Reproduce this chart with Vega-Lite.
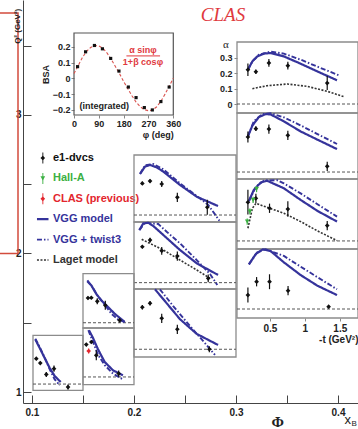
{
"$schema": "https://vega.github.io/schema/vega-lite/v6.json",
"width": 335, "height": 403,
"padding": {"left": 23, "top": 0, "right": 0, "bottom": 26},
"autosize": {"type": "none"},
"background": "white",
"config": {"view": {"stroke": null}, "font": "Liberation Sans", "axis": {"grid": false, "labelColor": "#222222", "titleColor": "#222222"}},
"datasets": {
"pts": [
{"p":"P4a","s":"e1-dvcs","t":0.186,"a":0.221,"lo":0.181,"hi":0.261},
{"p":"P4a","s":"e1-dvcs","t":0.30,"a":0.208,"lo":0.193,"hi":0.223},
{"p":"P4a","s":"e1-dvcs","t":0.486,"a":0.265,"lo":0.24,"hi":0.29},
{"p":"P4a","s":"e1-dvcs","t":0.757,"a":0.247,"lo":0.222,"hi":0.272},
{"p":"P4a","s":"e1-dvcs","t":1.32,"a":0.135,"lo":0.09,"hi":0.18},
{"p":"P4b","s":"e1-dvcs","t":0.186,"a":0.226,"lo":0.191,"hi":0.261},
{"p":"P4b","s":"e1-dvcs","t":0.30,"a":0.28,"lo":0.265,"hi":0.295},
{"p":"P4b","s":"e1-dvcs","t":0.486,"a":0.277,"lo":0.247,"hi":0.307},
{"p":"P4b","s":"e1-dvcs","t":0.757,"a":0.237,"lo":0.207,"hi":0.267},
{"p":"P4b","s":"e1-dvcs","t":1.32,"a":0.037,"lo":0.007,"hi":0.067},
{"p":"P4c","s":"e1-dvcs","t":0.186,"a":0.25,"lo":0.17,"hi":0.33},
{"p":"P4c","s":"e1-dvcs","t":0.30,"a":0.275,"lo":0.245,"hi":0.305},
{"p":"P4c","s":"e1-dvcs","t":0.495,"a":0.211,"lo":0.181,"hi":0.241},
{"p":"P4c","s":"e1-dvcs","t":0.757,"a":0.206,"lo":0.156,"hi":0.256},
{"p":"P4c","s":"e1-dvcs","t":1.32,"a":0.099,"lo":0.069,"hi":0.129},
{"p":"P4c","s":"Hall-A","t":0.176,"a":0.125,"lo":0.105,"hi":0.145},
{"p":"P4c","s":"Hall-A","t":0.214,"a":0.19,"lo":0.17,"hi":0.21},
{"p":"P4c","s":"Hall-A","t":0.26,"a":0.265,"lo":0.245,"hi":0.285},
{"p":"P4c","s":"Hall-A","t":0.31,"a":0.335,"lo":0.315,"hi":0.355},
{"p":"P4d","s":"e1-dvcs","t":0.186,"a":0.09,"lo":0.042,"hi":0.138},
{"p":"P4d","s":"e1-dvcs","t":0.31,"a":0.176,"lo":0.146,"hi":0.206},
{"p":"P4d","s":"e1-dvcs","t":0.495,"a":0.176,"lo":0.128,"hi":0.224},
{"p":"P4d","s":"e1-dvcs","t":0.76,"a":0.118,"lo":0.088,"hi":0.148},
{"p":"P4d","s":"e1-dvcs","t":1.34,"a":0.015,"lo":0.005,"hi":0.025},
{"p":"P3a","s":"e1-dvcs","t":0.149,"a":0.204,"lo":0.194,"hi":0.214},
{"p":"P3a","s":"e1-dvcs","t":0.259,"a":0.219,"lo":0.209,"hi":0.229},
{"p":"P3a","s":"e1-dvcs","t":0.426,"a":0.20,"lo":0.18,"hi":0.22},
{"p":"P3a","s":"e1-dvcs","t":0.649,"a":0.114,"lo":0.084,"hi":0.144},
{"p":"P3a","s":"e1-dvcs","t":1.077,"a":0.05,"lo":0.002,"hi":0.098},
{"p":"P3b","s":"e1-dvcs","t":0.149,"a":0.232,"lo":0.222,"hi":0.242},
{"p":"P3b","s":"e1-dvcs","t":0.259,"a":0.275,"lo":0.26,"hi":0.29},
{"p":"P3b","s":"e1-dvcs","t":0.426,"a":0.206,"lo":0.181,"hi":0.231},
{"p":"P3b","s":"e1-dvcs","t":0.649,"a":0.172,"lo":0.142,"hi":0.202},
{"p":"P3b","s":"e1-dvcs","t":1.09,"a":0.028,"lo":0.003,"hi":0.053},
{"p":"P3c","s":"e1-dvcs","t":0.149,"a":0.271,"lo":0.256,"hi":0.286},
{"p":"P3c","s":"e1-dvcs","t":0.259,"a":0.297,"lo":0.282,"hi":0.312},
{"p":"P3c","s":"e1-dvcs","t":0.426,"a":0.20,"lo":0.17,"hi":0.23},
{"p":"P3c","s":"e1-dvcs","t":0.649,"a":0.129,"lo":0.099,"hi":0.159},
{"p":"P3c","s":"e1-dvcs","t":1.106,"a":0.0,"lo":-0.02,"hi":0.02},
{"p":"P2a","s":"e1-dvcs","t":0.121,"a":0.198,"lo":0.188,"hi":0.208},
{"p":"P2a","s":"e1-dvcs","t":0.169,"a":0.2,"lo":0.19,"hi":0.21},
{"p":"P2a","s":"e1-dvcs","t":0.254,"a":0.171,"lo":0.147,"hi":0.195},
{"p":"P2a","s":"e1-dvcs","t":0.369,"a":0.139,"lo":0.103,"hi":0.175},
{"p":"P2a","s":"e1-dvcs","t":0.574,"a":0.019,"lo":0.003,"hi":0.035},
{"p":"P2b","s":"e1-dvcs","t":0.097,"a":0.259,"lo":0.249,"hi":0.269},
{"p":"P2b","s":"e1-dvcs","t":0.169,"a":0.28,"lo":0.27,"hi":0.29},
{"p":"P2b","s":"e1-dvcs","t":0.24,"a":0.173,"lo":0.133,"hi":0.213},
{"p":"P2b","s":"e1-dvcs","t":0.56,"a":0.027,"lo":0.002,"hi":0.052},
{"p":"P2b","s":"CLAS (previous)","t":0.131,"a":0.208,"lo":0.188,"hi":0.228},
{"p":"P1","s":"e1-dvcs","t":0.077,"a":0.203,"lo":0.193,"hi":0.213},
{"p":"P1","s":"e1-dvcs","t":0.134,"a":0.168,"lo":0.158,"hi":0.178},
{"p":"P1","s":"e1-dvcs","t":0.22,"a":0.077,"lo":0.057,"hi":0.097},
{"p":"P1","s":"e1-dvcs","t":0.33,"a":0.123,"lo":0.098,"hi":0.148},
{"p":"P1","s":"e1-dvcs","t":0.53,"a":-0.024,"lo":-0.044,"hi":-0.004}
],
"crv": [
{"p":"P4a","s":"VGG model","t":0.186,"a":0.221},{"p":"P4a","s":"VGG model","t":0.25,"a":0.275},{"p":"P4a","s":"VGG model","t":0.32,"a":0.307},{"p":"P4a","s":"VGG model","t":0.414,"a":0.325},{"p":"P4a","s":"VGG model","t":0.51,"a":0.329},{"p":"P4a","s":"VGG model","t":0.70,"a":0.307},{"p":"P4a","s":"VGG model","t":0.94,"a":0.26},{"p":"P4a","s":"VGG model","t":1.18,"a":0.21},{"p":"P4a","s":"VGG model","t":1.46,"a":0.153},
{"p":"P4a","s":"VGG + twist3","t":0.186,"a":0.221},{"p":"P4a","s":"VGG + twist3","t":0.25,"a":0.275},{"p":"P4a","s":"VGG + twist3","t":0.343,"a":0.318},{"p":"P4a","s":"VGG + twist3","t":0.51,"a":0.338},{"p":"P4a","s":"VGG + twist3","t":0.70,"a":0.325},{"p":"P4a","s":"VGG + twist3","t":0.94,"a":0.286},{"p":"P4a","s":"VGG + twist3","t":1.18,"a":0.241},{"p":"P4a","s":"VGG + twist3","t":1.486,"a":0.185},
{"p":"P4a","s":"Laget model","t":0.25,"a":0.099},{"p":"P4a","s":"Laget model","t":0.46,"a":0.118},{"p":"P4a","s":"Laget model","t":0.75,"a":0.129},{"p":"P4a","s":"Laget model","t":1.03,"a":0.114},{"p":"P4a","s":"Laget model","t":1.32,"a":0.082},{"p":"P4a","s":"Laget model","t":1.56,"a":0.047},
{"p":"P4b","s":"VGG model","t":0.186,"a":0.23},{"p":"P4b","s":"VGG model","t":0.25,"a":0.30},{"p":"P4b","s":"VGG model","t":0.343,"a":0.355},{"p":"P4b","s":"VGG model","t":0.44,"a":0.374},{"p":"P4b","s":"VGG model","t":0.51,"a":0.372},{"p":"P4b","s":"VGG model","t":0.70,"a":0.327},{"p":"P4b","s":"VGG model","t":0.94,"a":0.262},{"p":"P4b","s":"VGG model","t":1.18,"a":0.209},{"p":"P4b","s":"VGG model","t":1.46,"a":0.148},
{"p":"P4b","s":"VGG + twist3","t":0.186,"a":0.23},{"p":"P4b","s":"VGG + twist3","t":0.27,"a":0.327},{"p":"P4b","s":"VGG + twist3","t":0.39,"a":0.374},{"p":"P4b","s":"VGG + twist3","t":0.51,"a":0.38},{"p":"P4b","s":"VGG + twist3","t":0.70,"a":0.353},{"p":"P4b","s":"VGG + twist3","t":0.94,"a":0.301},{"p":"P4b","s":"VGG + twist3","t":1.18,"a":0.245},{"p":"P4b","s":"VGG + twist3","t":1.46,"a":0.181},
{"p":"P4c","s":"VGG model","t":0.20,"a":0.258},{"p":"P4c","s":"VGG model","t":0.27,"a":0.329},{"p":"P4c","s":"VGG model","t":0.37,"a":0.378},{"p":"P4c","s":"VGG model","t":0.46,"a":0.389},{"p":"P4c","s":"VGG model","t":0.70,"a":0.34},{"p":"P4c","s":"VGG model","t":0.94,"a":0.265},{"p":"P4c","s":"VGG model","t":1.18,"a":0.194},{"p":"P4c","s":"VGG model","t":1.46,"a":0.125},
{"p":"P4c","s":"VGG + twist3","t":0.20,"a":0.258},{"p":"P4c","s":"VGG + twist3","t":0.30,"a":0.35},{"p":"P4c","s":"VGG + twist3","t":0.414,"a":0.389},{"p":"P4c","s":"VGG + twist3","t":0.60,"a":0.393},{"p":"P4c","s":"VGG + twist3","t":0.70,"a":0.372},{"p":"P4c","s":"VGG + twist3","t":0.94,"a":0.307},{"p":"P4c","s":"VGG + twist3","t":1.18,"a":0.237},{"p":"P4c","s":"VGG + twist3","t":1.46,"a":0.157},
{"p":"P4c","s":"Laget model","t":0.186,"a":0.082},{"p":"P4c","s":"Laget model","t":0.25,"a":0.211},{"p":"P4c","s":"Laget model","t":0.30,"a":0.243},{"p":"P4c","s":"Laget model","t":0.46,"a":0.217},{"p":"P4c","s":"Laget model","t":0.70,"a":0.179},{"p":"P4c","s":"Laget model","t":0.94,"a":0.125},{"p":"P4c","s":"Laget model","t":1.18,"a":0.065},{"p":"P4c","s":"Laget model","t":1.46,"a":0.002},
{"p":"P4d","s":"VGG model","t":0.20,"a":0.288},{"p":"P4d","s":"VGG model","t":0.30,"a":0.355},{"p":"P4d","s":"VGG model","t":0.40,"a":0.385},{"p":"P4d","s":"VGG model","t":0.51,"a":0.374},{"p":"P4d","s":"VGG model","t":0.70,"a":0.301},{"p":"P4d","s":"VGG model","t":0.94,"a":0.219},{"p":"P4d","s":"VGG model","t":1.18,"a":0.15},{"p":"P4d","s":"VGG model","t":1.46,"a":0.09},
{"p":"P4d","s":"VGG + twist3","t":0.20,"a":0.288},{"p":"P4d","s":"VGG + twist3","t":0.32,"a":0.366},{"p":"P4d","s":"VGG + twist3","t":0.44,"a":0.385},{"p":"P4d","s":"VGG + twist3","t":0.70,"a":0.342},{"p":"P4d","s":"VGG + twist3","t":0.94,"a":0.273},{"p":"P4d","s":"VGG + twist3","t":1.18,"a":0.205},{"p":"P4d","s":"VGG + twist3","t":1.46,"a":0.127},
{"p":"P3a","s":"VGG model","t":0.116,"a":0.265},{"p":"P3a","s":"VGG model","t":0.187,"a":0.312},{"p":"P3a","s":"VGG model","t":0.259,"a":0.323},{"p":"P3a","s":"VGG model","t":0.354,"a":0.307},{"p":"P3a","s":"VGG model","t":0.449,"a":0.28},{"p":"P3a","s":"VGG model","t":0.687,"a":0.194},{"p":"P3a","s":"VGG model","t":0.926,"a":0.118},{"p":"P3a","s":"VGG model","t":1.23,"a":0.058},
{"p":"P3a","s":"VGG + twist3","t":0.116,"a":0.265},{"p":"P3a","s":"VGG + twist3","t":0.187,"a":0.32},{"p":"P3a","s":"VGG + twist3","t":0.306,"a":0.329},{"p":"P3a","s":"VGG + twist3","t":0.449,"a":0.295},{"p":"P3a","s":"VGG + twist3","t":0.687,"a":0.204},{"p":"P3a","s":"VGG + twist3","t":0.926,"a":0.123},{"p":"P3a","s":"VGG + twist3","t":1.09,"a":0.065},{"p":"P3a","s":"VGG + twist3","t":1.187,"a":0.004},{"p":"P3a","s":"VGG + twist3","t":1.25,"a":-0.037},
{"p":"P3b","s":"VGG model","t":0.106,"a":0.34},{"p":"P3b","s":"VGG model","t":0.163,"a":0.383},{"p":"P3b","s":"VGG model","t":0.234,"a":0.387},{"p":"P3b","s":"VGG model","t":0.306,"a":0.366},{"p":"P3b","s":"VGG model","t":0.449,"a":0.308},{"p":"P3b","s":"VGG model","t":0.687,"a":0.211},{"p":"P3b","s":"VGG model","t":0.926,"a":0.125},{"p":"P3b","s":"VGG model","t":1.23,"a":0.05},
{"p":"P3b","s":"VGG + twist3","t":0.106,"a":0.34},{"p":"P3b","s":"VGG + twist3","t":0.187,"a":0.387},{"p":"P3b","s":"VGG + twist3","t":0.377,"a":0.379},{"p":"P3b","s":"VGG + twist3","t":0.497,"a":0.329},{"p":"P3b","s":"VGG + twist3","t":0.687,"a":0.254},{"p":"P3b","s":"VGG + twist3","t":0.926,"a":0.146},{"p":"P3b","s":"VGG + twist3","t":1.116,"a":0.056},{"p":"P3b","s":"VGG + twist3","t":1.22,"a":-0.015},
{"p":"P3b","s":"Laget model","t":0.14,"a":0.28},{"p":"P3b","s":"Laget model","t":0.449,"a":0.211},{"p":"P3b","s":"Laget model","t":0.687,"a":0.146},{"p":"P3b","s":"Laget model","t":0.926,"a":0.082},{"p":"P3b","s":"Laget model","t":1.116,"a":0.028},
{"p":"P3c","s":"VGG model","t":0.33,"a":0.387},{"p":"P3c","s":"VGG model","t":0.449,"a":0.323},{"p":"P3c","s":"VGG model","t":0.687,"a":0.194},{"p":"P3c","s":"VGG model","t":0.926,"a":0.099},{"p":"P3c","s":"VGG model","t":1.23,"a":0.028},
{"p":"P3c","s":"VGG + twist3","t":0.40,"a":0.387},{"p":"P3c","s":"VGG + twist3","t":0.59,"a":0.279},{"p":"P3c","s":"VGG + twist3","t":0.83,"a":0.15},{"p":"P3c","s":"VGG + twist3","t":1.044,"a":0.039},{"p":"P3c","s":"VGG + twist3","t":1.187,"a":-0.037},
{"p":"P2a","s":"VGG model","t":0.112,"a":0.331},{"p":"P2a","s":"VGG model","t":0.169,"a":0.299},{"p":"P2a","s":"VGG model","t":0.24,"a":0.23},{"p":"P2a","s":"VGG model","t":0.312,"a":0.179},{"p":"P2a","s":"VGG model","t":0.407,"a":0.126},{"p":"P2a","s":"VGG model","t":0.503,"a":0.072},{"p":"P2a","s":"VGG model","t":0.646,"a":0.006},
{"p":"P2a","s":"VGG + twist3","t":0.112,"a":0.339},{"p":"P2a","s":"VGG + twist3","t":0.193,"a":0.278},{"p":"P2a","s":"VGG + twist3","t":0.264,"a":0.211},{"p":"P2a","s":"VGG + twist3","t":0.369,"a":0.139},{"p":"P2a","s":"VGG + twist3","t":0.455,"a":0.072},{"p":"P2a","s":"VGG + twist3","t":0.55,"a":0.027},{"p":"P2a","s":"VGG + twist3","t":0.646,"a":0.006},
{"p":"P2b","s":"VGG model","t":0.136,"a":0.374},{"p":"P2b","s":"VGG model","t":0.193,"a":0.312},{"p":"P2b","s":"VGG model","t":0.264,"a":0.222},{"p":"P2b","s":"VGG model","t":0.36,"a":0.12},{"p":"P2b","s":"VGG model","t":0.479,"a":0.053},{"p":"P2b","s":"VGG model","t":0.621,"a":0.013},
{"p":"P2b","s":"VGG + twist3","t":0.126,"a":0.374},{"p":"P2b","s":"VGG + twist3","t":0.193,"a":0.28},{"p":"P2b","s":"VGG + twist3","t":0.264,"a":0.179},{"p":"P2b","s":"VGG + twist3","t":0.36,"a":0.094},{"p":"P2b","s":"VGG + twist3","t":0.479,"a":0.027},{"p":"P2b","s":"VGG + twist3","t":0.621,"a":-0.019},
{"p":"P1","s":"VGG model","t":0.063,"a":0.357},{"p":"P1","s":"VGG model","t":0.126,"a":0.288},{"p":"P1","s":"VGG model","t":0.197,"a":0.208},{"p":"P1","s":"VGG model","t":0.269,"a":0.128},{"p":"P1","s":"VGG model","t":0.34,"a":0.064},{"p":"P1","s":"VGG model","t":0.426,"a":0.016},
{"p":"P1","s":"VGG + twist3","t":0.063,"a":0.362},{"p":"P1","s":"VGG + twist3","t":0.126,"a":0.296},{"p":"P1","s":"VGG + twist3","t":0.197,"a":0.211},{"p":"P1","s":"VGG + twist3","t":0.269,"a":0.117},{"p":"P1","s":"VGG + twist3","t":0.34,"a":0.037},{"p":"P1","s":"VGG + twist3","t":0.411,"a":-0.01}
],
"bsa": [
{"phi":13,"v":0.074},{"phi":42,"v":0.168},{"phi":74,"v":0.208},{"phi":103,"v":0.187},{"phi":133,"v":0.126},{"phi":163,"v":0.046},{"phi":197,"v":-0.055},{"phi":225,"v":-0.122},{"phi":255,"v":-0.185},{"phi":284,"v":-0.2},{"phi":315,"v":-0.147},{"phi":345,"v":-0.055}
],
"fit": [
{"phi":0,"v":0.03},{"phi":15,"v":0.08},{"phi":30,"v":0.13},{"phi":45,"v":0.17},{"phi":60,"v":0.195},{"phi":75,"v":0.207},{"phi":90,"v":0.205},{"phi":105,"v":0.19},{"phi":120,"v":0.16},{"phi":135,"v":0.12},{"phi":150,"v":0.075},{"phi":165,"v":0.03},{"phi":180,"v":-0.02},{"phi":195,"v":-0.065},{"phi":210,"v":-0.11},{"phi":225,"v":-0.15},{"phi":240,"v":-0.18},{"phi":255,"v":-0.198},{"phi":270,"v":-0.205},{"phi":285,"v":-0.2},{"phi":300,"v":-0.18},{"phi":315,"v":-0.145},{"phi":330,"v":-0.1},{"phi":345,"v":-0.05},{"phi":360,"v":0.0}
],
"leg": [{"s":"e1-dvcs"},{"s":"Hall-A"},{"s":"CLAS (previous)"},{"s":"VGG model"},{"s":"VGG + twist3"},{"s":"Laget model"}]
},
"resolve": {"scale": {"x": "independent", "y": "independent"}, "axis": {"x": "independent", "y": "independent"}},
"layer": [
{"layer": [
 {"data":{"values":[{}]},"mark":{"type":"rect","fill":null,"stroke":"#d24b3c","strokeWidth":1.5},
  "encoding":{
   "x":{"datum":0.05,"type":"quantitative","scale":{"domain":[0.0912,0.4196],"nice":false,"zero":false},"axis":null},
   "x2":{"datum":0.0863},
   "y":{"datum":2.0,"type":"quantitative","scale":{"domain":[0.9206,3.83],"nice":false,"zero":false},"axis":null},
   "y2":{"datum":3.736}}},
 {"data":{"values":[{}]},"mark":{"type":"text","text":"Q² (GeV²)","angle":270,"fontSize":8,"fontWeight":"bold","color":"#222222","baseline":"middle"},"encoding":{"x":{"datum":0.0863,"type":"quantitative","axis":null},"y":{"datum":3.64,"type":"quantitative","axis":null}}},
 {"data":{"values":[{}]},"mark":{"type":"text","text":"CLAS","font":"Liberation Serif","fontStyle":"italic","fontSize":19,"color":"#e0393e"},"encoding":{"x":{"datum":0.2873,"type":"quantitative","axis":null},"y":{"datum":3.722,"type":"quantitative","axis":null}}},
 {"data":{"values":[{}]},"mark":{"type":"text","text":"Φ","font":"Liberation Serif","fontWeight":"bold","fontSize":15,"color":"#222222"},"encoding":{"x":{"datum":0.341,"type":"quantitative","axis":null},"y":{"datum":0.785,"type":"quantitative","axis":null}}},
 {"data":{"values":[{}]},"mark":{"type":"text","text":"x","font":"Liberation Sans","fontSize":13,"color":"#222222"},"encoding":{"x":{"datum":0.4095,"type":"quantitative","axis":null},"y":{"datum":0.795,"type":"quantitative","axis":null}}},
 {"data":{"values":[{}]},"mark":{"type":"text","text":"B","font":"Liberation Sans","fontSize":8,"color":"#222222"},"encoding":{"x":{"datum":0.4158,"type":"quantitative","axis":null},"y":{"datum":0.77,"type":"quantitative","axis":null}}}
]},
{"layer": [
 {"data":{"values":[{}]},"mark":{"type":"rect","fill":null,"stroke":"#555555","strokeWidth":1.2},
  "encoding":{
   "x":{"datum":0,"type":"quantitative","scale":{"domain":[0,360],"range":[51,150.3],"nice":false,"zero":false},"axis":null},
   "x2":{"datum":360},
   "y":{"datum":-0.232,"type":"quantitative","scale":{"domain":[-0.232,0.287],"range":[115,33],"nice":false,"zero":false},"axis":null},
   "y2":{"datum":0.287}}},
 {"data":{"name":"fit"},"mark":{"type":"line","color":"#d9534f","strokeDash":[3,2],"strokeWidth":1.1},"encoding":{"x":{"field":"phi","type":"quantitative","axis":null},"y":{"field":"v","type":"quantitative","axis":null}}},
 {"data":{"name":"bsa"},"mark":{"type":"point","shape":"square","filled":true,"size":10,"color":"#111111","opacity":1},"encoding":{"x":{"field":"phi","type":"quantitative","axis":null},"y":{"field":"v","type":"quantitative","axis":null}}},
 {"data":{"values":[{}]},"mark":{"type":"text","text":"α sinφ","fontSize":9,"fontWeight":"bold","color":"#e0393e"},"encoding":{"x":{"datum":250,"type":"quantitative","axis":null},"y":{"datum":0.182,"type":"quantitative","axis":null}}},
 {"data":{"values":[{}]},"mark":{"type":"text","text":"1+β cosφ","fontSize":9,"fontWeight":"bold","color":"#e0393e"},"encoding":{"x":{"datum":250,"type":"quantitative","axis":null},"y":{"datum":0.103,"type":"quantitative","axis":null}}},
 {"data":{"values":[{}]},"mark":{"type":"rule","color":"#e0393e","strokeWidth":1},"encoding":{"x":{"datum":190,"type":"quantitative","axis":null},"x2":{"datum":312},"y":{"datum":0.142,"type":"quantitative","axis":null}}},
 {"data":{"values":[{}]},"mark":{"type":"text","text":"(integrated)","fontSize":9,"fontWeight":"bold","align":"left","color":"#222222"},"encoding":{"x":{"datum":20,"type":"quantitative","axis":null},"y":{"datum":-0.172,"type":"quantitative","axis":null}}}
]},
{"layer": [
 {"data":{"name":"leg"},"transform":[{"filter":"indexof(['VGG model','VGG + twist3','Laget model'], datum.s) >= 0"}],"mark":{"type":"rule"},
  "encoding":{"x":{"datum":0.1049,"type":"quantitative","scale":{"domain":[0.0912,0.4196],"nice":false,"zero":false},"axis":null},"x2":{"datum":0.1162},
   "y":{"field":"s","type":"nominal","scale":{"type":"point","domain":["e1-dvcs","Hall-A","CLAS (previous)","VGG model","VGG + twist3","Laget model"],"range":[158,260],"padding":0},"axis":null},
   "color":{"field":"s","type":"nominal","scale":{"domain":["e1-dvcs","Hall-A","CLAS (previous)","VGG model","VGG + twist3","Laget model"],"range":["#111111","#3cb043","#e3262e","#35339b","#35339b","#333333"]},"legend":null},
   "strokeDash":{"field":"s","type":"nominal","scale":{"domain":["VGG model","VGG + twist3","Laget model"],"range":[[1,0],[5,2,1.5,2],[2,1.5]]},"legend":null},
   "strokeWidth":{"field":"s","type":"ordinal","scale":{"domain":["VGG model","VGG + twist3","Laget model"],"range":[2.2,1.6,1.3]},"legend":null}}},
 {"data":{"name":"leg"},"transform":[{"filter":"indexof(['e1-dvcs','Hall-A','CLAS (previous)'], datum.s) >= 0"}],"mark":{"type":"tick","orient":"vertical","size":11,"thickness":1.3},
  "encoding":{"x":{"datum":0.1106,"type":"quantitative","axis":null},"y":{"field":"s","type":"nominal","axis":null},
   "color":{"field":"s","type":"nominal","scale":{"domain":["e1-dvcs","Hall-A","CLAS (previous)","VGG model","VGG + twist3","Laget model"],"range":["#111111","#3cb043","#e3262e","#35339b","#35339b","#333333"]},"legend":null}}},
 {"data":{"name":"leg"},"transform":[{"filter":"indexof(['e1-dvcs','Hall-A','CLAS (previous)'], datum.s) >= 0"}],"mark":{"type":"point","filled":true,"size":22,"opacity":1},
  "encoding":{"x":{"datum":0.1106,"type":"quantitative","axis":null},"y":{"field":"s","type":"nominal","axis":null},
   "color":{"field":"s","type":"nominal","scale":{"domain":["e1-dvcs","Hall-A","CLAS (previous)","VGG model","VGG + twist3","Laget model"],"range":["#111111","#3cb043","#e3262e","#35339b","#35339b","#333333"]},"legend":null},
   "shape":{"field":"s","type":"nominal","scale":{"domain":["e1-dvcs","Hall-A","CLAS (previous)"],"range":["diamond","triangle-down","diamond"]},"legend":null}}},
 {"data":{"name":"leg"},"mark":{"type":"text","align":"left","baseline":"middle","fontSize":11,"fontWeight":"bold"},
  "encoding":{"x":{"datum":0.1206,"type":"quantitative","axis":null},"y":{"field":"s","type":"nominal","axis":null},"text":{"field":"s"},
   "color":{"field":"s","type":"nominal","scale":{"domain":["e1-dvcs","Hall-A","CLAS (previous)","VGG model","VGG + twist3","Laget model"],"range":["#111111","#3cb043","#e3262e","#35339b","#35339b","#333333"]},"legend":null}}}
]},
{"layer": [
 {"data":{"values":[{}]},"mark":{"type":"rect","fill":null,"stroke":"#8c8c8c","strokeWidth":1.3},"encoding":{"x":{"datum":0.03,"type":"quantitative","scale":{"domain":[0.03,1.76],"range":[214,335],"nice":false,"zero":false},"axis":null},"x2":{"datum":1.76},"y":{"datum":-0.058,"type":"quantitative","scale":{"domain":[-0.058,0.40],"range":[113,42],"nice":false,"zero":false},"axis":null},"y2":{"datum":0.40}}},
 {"data":{"values":[{}]},"mark":{"type":"rule","strokeDash":[3,2],"color":"#555555","strokeWidth":1},"encoding":{"x":{"datum":0.03,"type":"quantitative","axis":null},"x2":{"datum":1.76},"y":{"datum":0,"type":"quantitative","axis":null}}},
 {"data":{"values":[{}]},"mark":{"type":"text","text":"α","font":"Liberation Serif","fontSize":11,"color":"#222222"},"encoding":{"x":{"datum":-0.13,"type":"quantitative","axis":null},"y":{"datum":0.38,"type":"quantitative","axis":null}}},
 {"data":{"name":"crv"},"transform":[{"filter":"datum.p=='P4a'"}],"mark":{"type":"line"},"encoding":{"x":{"field":"t","type":"quantitative","axis":null},"y":{"field":"a","type":"quantitative","axis":null},"color":{"field":"s","type":"nominal","scale":{"domain":["e1-dvcs","Hall-A","CLAS (previous)","VGG model","VGG + twist3","Laget model"],"range":["#111111","#3cb043","#e3262e","#35339b","#35339b","#333333"]},"legend":null},"strokeDash":{"field":"s","type":"nominal","scale":{"domain":["VGG model","VGG + twist3","Laget model"],"range":[[1,0],[5,2,1.5,2],[2,1.5]]},"legend":null},"strokeWidth":{"field":"s","type":"ordinal","scale":{"domain":["VGG model","VGG + twist3","Laget model"],"range":[2.2,1.6,1.3]},"legend":null}}},
 {"data":{"name":"pts"},"transform":[{"filter":"datum.p=='P4a'"}],"mark":{"type":"rule","strokeWidth":1.2},"encoding":{"x":{"field":"t","type":"quantitative","axis":null},"y":{"field":"lo","type":"quantitative","axis":null},"y2":{"field":"hi"},"color":{"field":"s","type":"nominal","scale":{"domain":["e1-dvcs","Hall-A","CLAS (previous)","VGG model","VGG + twist3","Laget model"],"range":["#111111","#3cb043","#e3262e","#35339b","#35339b","#333333"]},"legend":null}}},
 {"data":{"name":"pts"},"transform":[{"filter":"datum.p=='P4a'"}],"mark":{"type":"point","filled":true,"size":22,"opacity":1},"encoding":{"x":{"field":"t","type":"quantitative","axis":null},"y":{"field":"a","type":"quantitative","axis":null},"color":{"field":"s","type":"nominal","scale":{"domain":["e1-dvcs","Hall-A","CLAS (previous)","VGG model","VGG + twist3","Laget model"],"range":["#111111","#3cb043","#e3262e","#35339b","#35339b","#333333"]},"legend":null},"shape":{"field":"s","type":"nominal","scale":{"domain":["e1-dvcs","Hall-A","CLAS (previous)"],"range":["circle","triangle-down","diamond"]},"legend":null}}}
]},
{"layer": [
 {"data":{"values":[{}]},"mark":{"type":"rect","fill":null,"stroke":"#8c8c8c","strokeWidth":1.3},"encoding":{"x":{"datum":0.03,"type":"quantitative","scale":{"domain":[0.03,1.76],"range":[214,335],"nice":false,"zero":false},"axis":null},"x2":{"datum":1.76},"y":{"datum":-0.045,"type":"quantitative","scale":{"domain":[-0.045,0.381],"range":[179,113],"nice":false,"zero":false},"axis":null},"y2":{"datum":0.381}}},
 {"data":{"values":[{}]},"mark":{"type":"rule","strokeDash":[3,2],"color":"#555555","strokeWidth":1},"encoding":{"x":{"datum":0.03,"type":"quantitative","axis":null},"x2":{"datum":1.76},"y":{"datum":0,"type":"quantitative","axis":null}}},
 {"data":{"name":"crv"},"transform":[{"filter":"datum.p=='P4b'"}],"mark":{"type":"line"},"encoding":{"x":{"field":"t","type":"quantitative","axis":null},"y":{"field":"a","type":"quantitative","axis":null},"color":{"field":"s","type":"nominal","scale":{"domain":["e1-dvcs","Hall-A","CLAS (previous)","VGG model","VGG + twist3","Laget model"],"range":["#111111","#3cb043","#e3262e","#35339b","#35339b","#333333"]},"legend":null},"strokeDash":{"field":"s","type":"nominal","scale":{"domain":["VGG model","VGG + twist3","Laget model"],"range":[[1,0],[5,2,1.5,2],[2,1.5]]},"legend":null},"strokeWidth":{"field":"s","type":"ordinal","scale":{"domain":["VGG model","VGG + twist3","Laget model"],"range":[2.2,1.6,1.3]},"legend":null}}},
 {"data":{"name":"pts"},"transform":[{"filter":"datum.p=='P4b'"}],"mark":{"type":"rule","strokeWidth":1.2},"encoding":{"x":{"field":"t","type":"quantitative","axis":null},"y":{"field":"lo","type":"quantitative","axis":null},"y2":{"field":"hi"},"color":{"field":"s","type":"nominal","scale":{"domain":["e1-dvcs","Hall-A","CLAS (previous)","VGG model","VGG + twist3","Laget model"],"range":["#111111","#3cb043","#e3262e","#35339b","#35339b","#333333"]},"legend":null}}},
 {"data":{"name":"pts"},"transform":[{"filter":"datum.p=='P4b'"}],"mark":{"type":"point","filled":true,"size":22,"opacity":1},"encoding":{"x":{"field":"t","type":"quantitative","axis":null},"y":{"field":"a","type":"quantitative","axis":null},"color":{"field":"s","type":"nominal","scale":{"domain":["e1-dvcs","Hall-A","CLAS (previous)","VGG model","VGG + twist3","Laget model"],"range":["#111111","#3cb043","#e3262e","#35339b","#35339b","#333333"]},"legend":null},"shape":{"field":"s","type":"nominal","scale":{"domain":["e1-dvcs","Hall-A","CLAS (previous)"],"range":["circle","triangle-down","diamond"]},"legend":null}}}
]},
{"layer": [
 {"data":{"values":[{}]},"mark":{"type":"rect","fill":null,"stroke":"#8c8c8c","strokeWidth":1.3},"encoding":{"x":{"datum":0.03,"type":"quantitative","scale":{"domain":[0.03,1.76],"range":[214,335],"nice":false,"zero":false},"axis":null},"x2":{"datum":1.76},"y":{"datum":-0.052,"type":"quantitative","scale":{"domain":[-0.052,0.40],"range":[249,179],"nice":false,"zero":false},"axis":null},"y2":{"datum":0.40}}},
 {"data":{"values":[{}]},"mark":{"type":"rule","strokeDash":[3,2],"color":"#555555","strokeWidth":1},"encoding":{"x":{"datum":0.03,"type":"quantitative","axis":null},"x2":{"datum":1.76},"y":{"datum":0,"type":"quantitative","axis":null}}},
 {"data":{"name":"crv"},"transform":[{"filter":"datum.p=='P4c'"}],"mark":{"type":"line"},"encoding":{"x":{"field":"t","type":"quantitative","axis":null},"y":{"field":"a","type":"quantitative","axis":null},"color":{"field":"s","type":"nominal","scale":{"domain":["e1-dvcs","Hall-A","CLAS (previous)","VGG model","VGG + twist3","Laget model"],"range":["#111111","#3cb043","#e3262e","#35339b","#35339b","#333333"]},"legend":null},"strokeDash":{"field":"s","type":"nominal","scale":{"domain":["VGG model","VGG + twist3","Laget model"],"range":[[1,0],[5,2,1.5,2],[2,1.5]]},"legend":null},"strokeWidth":{"field":"s","type":"ordinal","scale":{"domain":["VGG model","VGG + twist3","Laget model"],"range":[2.2,1.6,1.3]},"legend":null}}},
 {"data":{"name":"pts"},"transform":[{"filter":"datum.p=='P4c'"}],"mark":{"type":"rule","strokeWidth":1.2},"encoding":{"x":{"field":"t","type":"quantitative","axis":null},"y":{"field":"lo","type":"quantitative","axis":null},"y2":{"field":"hi"},"color":{"field":"s","type":"nominal","scale":{"domain":["e1-dvcs","Hall-A","CLAS (previous)","VGG model","VGG + twist3","Laget model"],"range":["#111111","#3cb043","#e3262e","#35339b","#35339b","#333333"]},"legend":null}}},
 {"data":{"name":"pts"},"transform":[{"filter":"datum.p=='P4c'"}],"mark":{"type":"point","filled":true,"size":22,"opacity":1},"encoding":{"x":{"field":"t","type":"quantitative","axis":null},"y":{"field":"a","type":"quantitative","axis":null},"color":{"field":"s","type":"nominal","scale":{"domain":["e1-dvcs","Hall-A","CLAS (previous)","VGG model","VGG + twist3","Laget model"],"range":["#111111","#3cb043","#e3262e","#35339b","#35339b","#333333"]},"legend":null},"shape":{"field":"s","type":"nominal","scale":{"domain":["e1-dvcs","Hall-A","CLAS (previous)"],"range":["circle","triangle-down","diamond"]},"legend":null}}}
]},
{"layer": [
 {"data":{"values":[{}]},"mark":{"type":"rect","fill":null,"stroke":"#8c8c8c","strokeWidth":1.3},"encoding":{"x":{"datum":0.03,"type":"quantitative","scale":{"domain":[0.03,1.76],"range":[214,335],"nice":false,"zero":false},"axis":null},"x2":{"datum":1.76},"y":{"datum":-0.058,"type":"quantitative","scale":{"domain":[-0.058,0.387],"range":[318,249],"nice":false,"zero":false},"axis":null},"y2":{"datum":0.387}}},
 {"data":{"values":[{}]},"mark":{"type":"rule","strokeDash":[3,2],"color":"#555555","strokeWidth":1},"encoding":{"x":{"datum":0.03,"type":"quantitative","axis":null},"x2":{"datum":1.76},"y":{"datum":0,"type":"quantitative","axis":null}}},
 {"data":{"name":"crv"},"transform":[{"filter":"datum.p=='P4d'"}],"mark":{"type":"line"},"encoding":{"x":{"field":"t","type":"quantitative","axis":null},"y":{"field":"a","type":"quantitative","axis":null},"color":{"field":"s","type":"nominal","scale":{"domain":["e1-dvcs","Hall-A","CLAS (previous)","VGG model","VGG + twist3","Laget model"],"range":["#111111","#3cb043","#e3262e","#35339b","#35339b","#333333"]},"legend":null},"strokeDash":{"field":"s","type":"nominal","scale":{"domain":["VGG model","VGG + twist3","Laget model"],"range":[[1,0],[5,2,1.5,2],[2,1.5]]},"legend":null},"strokeWidth":{"field":"s","type":"ordinal","scale":{"domain":["VGG model","VGG + twist3","Laget model"],"range":[2.2,1.6,1.3]},"legend":null}}},
 {"data":{"name":"pts"},"transform":[{"filter":"datum.p=='P4d'"}],"mark":{"type":"rule","strokeWidth":1.2},"encoding":{"x":{"field":"t","type":"quantitative","axis":null},"y":{"field":"lo","type":"quantitative","axis":null},"y2":{"field":"hi"},"color":{"field":"s","type":"nominal","scale":{"domain":["e1-dvcs","Hall-A","CLAS (previous)","VGG model","VGG + twist3","Laget model"],"range":["#111111","#3cb043","#e3262e","#35339b","#35339b","#333333"]},"legend":null}}},
 {"data":{"name":"pts"},"transform":[{"filter":"datum.p=='P4d'"}],"mark":{"type":"point","filled":true,"size":22,"opacity":1},"encoding":{"x":{"field":"t","type":"quantitative","axis":null},"y":{"field":"a","type":"quantitative","axis":null},"color":{"field":"s","type":"nominal","scale":{"domain":["e1-dvcs","Hall-A","CLAS (previous)","VGG model","VGG + twist3","Laget model"],"range":["#111111","#3cb043","#e3262e","#35339b","#35339b","#333333"]},"legend":null},"shape":{"field":"s","type":"nominal","scale":{"domain":["e1-dvcs","Hall-A","CLAS (previous)"],"range":["circle","triangle-down","diamond"]},"legend":null}}}
]},
{"layer": [
 {"data":{"values":[{}]},"mark":{"type":"rect","fill":null,"stroke":"#8c8c8c","strokeWidth":1.3},"encoding":{"x":{"datum":0.03,"type":"quantitative","scale":{"domain":[0.03,1.487],"range":[111,213],"nice":false,"zero":false},"axis":null},"x2":{"datum":1.487},"y":{"datum":-0.045,"type":"quantitative","scale":{"domain":[-0.045,0.387],"range":[222,155],"nice":false,"zero":false},"axis":null},"y2":{"datum":0.387}}},
 {"data":{"values":[{}]},"mark":{"type":"rule","strokeDash":[3,2],"color":"#555555","strokeWidth":1},"encoding":{"x":{"datum":0.03,"type":"quantitative","axis":null},"x2":{"datum":1.487},"y":{"datum":0,"type":"quantitative","axis":null}}},
 {"data":{"name":"crv"},"transform":[{"filter":"datum.p=='P3a'"}],"mark":{"type":"line"},"encoding":{"x":{"field":"t","type":"quantitative","axis":null},"y":{"field":"a","type":"quantitative","axis":null},"color":{"field":"s","type":"nominal","scale":{"domain":["e1-dvcs","Hall-A","CLAS (previous)","VGG model","VGG + twist3","Laget model"],"range":["#111111","#3cb043","#e3262e","#35339b","#35339b","#333333"]},"legend":null},"strokeDash":{"field":"s","type":"nominal","scale":{"domain":["VGG model","VGG + twist3","Laget model"],"range":[[1,0],[5,2,1.5,2],[2,1.5]]},"legend":null},"strokeWidth":{"field":"s","type":"ordinal","scale":{"domain":["VGG model","VGG + twist3","Laget model"],"range":[2.2,1.6,1.3]},"legend":null}}},
 {"data":{"name":"pts"},"transform":[{"filter":"datum.p=='P3a'"}],"mark":{"type":"rule","strokeWidth":1.2},"encoding":{"x":{"field":"t","type":"quantitative","axis":null},"y":{"field":"lo","type":"quantitative","axis":null},"y2":{"field":"hi"},"color":{"field":"s","type":"nominal","scale":{"domain":["e1-dvcs","Hall-A","CLAS (previous)","VGG model","VGG + twist3","Laget model"],"range":["#111111","#3cb043","#e3262e","#35339b","#35339b","#333333"]},"legend":null}}},
 {"data":{"name":"pts"},"transform":[{"filter":"datum.p=='P3a'"}],"mark":{"type":"point","filled":true,"size":22,"opacity":1},"encoding":{"x":{"field":"t","type":"quantitative","axis":null},"y":{"field":"a","type":"quantitative","axis":null},"color":{"field":"s","type":"nominal","scale":{"domain":["e1-dvcs","Hall-A","CLAS (previous)","VGG model","VGG + twist3","Laget model"],"range":["#111111","#3cb043","#e3262e","#35339b","#35339b","#333333"]},"legend":null},"shape":{"field":"s","type":"nominal","scale":{"domain":["e1-dvcs","Hall-A","CLAS (previous)"],"range":["circle","triangle-down","diamond"]},"legend":null}}}
]},
{"layer": [
 {"data":{"values":[{}]},"mark":{"type":"rect","fill":null,"stroke":"#8c8c8c","strokeWidth":1.3},"encoding":{"x":{"datum":0.03,"type":"quantitative","scale":{"domain":[0.03,1.487],"range":[111,213],"nice":false,"zero":false},"axis":null},"x2":{"datum":1.487},"y":{"datum":-0.041,"type":"quantitative","scale":{"domain":[-0.041,0.392],"range":[289,222],"nice":false,"zero":false},"axis":null},"y2":{"datum":0.392}}},
 {"data":{"values":[{}]},"mark":{"type":"rule","strokeDash":[3,2],"color":"#555555","strokeWidth":1},"encoding":{"x":{"datum":0.03,"type":"quantitative","axis":null},"x2":{"datum":1.487},"y":{"datum":0,"type":"quantitative","axis":null}}},
 {"data":{"name":"crv"},"transform":[{"filter":"datum.p=='P3b'"}],"mark":{"type":"line"},"encoding":{"x":{"field":"t","type":"quantitative","axis":null},"y":{"field":"a","type":"quantitative","axis":null},"color":{"field":"s","type":"nominal","scale":{"domain":["e1-dvcs","Hall-A","CLAS (previous)","VGG model","VGG + twist3","Laget model"],"range":["#111111","#3cb043","#e3262e","#35339b","#35339b","#333333"]},"legend":null},"strokeDash":{"field":"s","type":"nominal","scale":{"domain":["VGG model","VGG + twist3","Laget model"],"range":[[1,0],[5,2,1.5,2],[2,1.5]]},"legend":null},"strokeWidth":{"field":"s","type":"ordinal","scale":{"domain":["VGG model","VGG + twist3","Laget model"],"range":[2.2,1.6,1.3]},"legend":null}}},
 {"data":{"name":"pts"},"transform":[{"filter":"datum.p=='P3b'"}],"mark":{"type":"rule","strokeWidth":1.2},"encoding":{"x":{"field":"t","type":"quantitative","axis":null},"y":{"field":"lo","type":"quantitative","axis":null},"y2":{"field":"hi"},"color":{"field":"s","type":"nominal","scale":{"domain":["e1-dvcs","Hall-A","CLAS (previous)","VGG model","VGG + twist3","Laget model"],"range":["#111111","#3cb043","#e3262e","#35339b","#35339b","#333333"]},"legend":null}}},
 {"data":{"name":"pts"},"transform":[{"filter":"datum.p=='P3b'"}],"mark":{"type":"point","filled":true,"size":22,"opacity":1},"encoding":{"x":{"field":"t","type":"quantitative","axis":null},"y":{"field":"a","type":"quantitative","axis":null},"color":{"field":"s","type":"nominal","scale":{"domain":["e1-dvcs","Hall-A","CLAS (previous)","VGG model","VGG + twist3","Laget model"],"range":["#111111","#3cb043","#e3262e","#35339b","#35339b","#333333"]},"legend":null},"shape":{"field":"s","type":"nominal","scale":{"domain":["e1-dvcs","Hall-A","CLAS (previous)"],"range":["circle","triangle-down","diamond"]},"legend":null}}}
]},
{"layer": [
 {"data":{"values":[{}]},"mark":{"type":"rect","fill":null,"stroke":"#8c8c8c","strokeWidth":1.3},"encoding":{"x":{"datum":0.03,"type":"quantitative","scale":{"domain":[0.03,1.487],"range":[111,213],"nice":false,"zero":false},"axis":null},"x2":{"datum":1.487},"y":{"datum":-0.05,"type":"quantitative","scale":{"domain":[-0.05,0.389],"range":[357,289],"nice":false,"zero":false},"axis":null},"y2":{"datum":0.389}}},
 {"data":{"values":[{}]},"mark":{"type":"rule","strokeDash":[3,2],"color":"#555555","strokeWidth":1},"encoding":{"x":{"datum":0.03,"type":"quantitative","axis":null},"x2":{"datum":1.487},"y":{"datum":0,"type":"quantitative","axis":null}}},
 {"data":{"name":"crv"},"transform":[{"filter":"datum.p=='P3c'"}],"mark":{"type":"line"},"encoding":{"x":{"field":"t","type":"quantitative","axis":null},"y":{"field":"a","type":"quantitative","axis":null},"color":{"field":"s","type":"nominal","scale":{"domain":["e1-dvcs","Hall-A","CLAS (previous)","VGG model","VGG + twist3","Laget model"],"range":["#111111","#3cb043","#e3262e","#35339b","#35339b","#333333"]},"legend":null},"strokeDash":{"field":"s","type":"nominal","scale":{"domain":["VGG model","VGG + twist3","Laget model"],"range":[[1,0],[5,2,1.5,2],[2,1.5]]},"legend":null},"strokeWidth":{"field":"s","type":"ordinal","scale":{"domain":["VGG model","VGG + twist3","Laget model"],"range":[2.2,1.6,1.3]},"legend":null}}},
 {"data":{"name":"pts"},"transform":[{"filter":"datum.p=='P3c'"}],"mark":{"type":"rule","strokeWidth":1.2},"encoding":{"x":{"field":"t","type":"quantitative","axis":null},"y":{"field":"lo","type":"quantitative","axis":null},"y2":{"field":"hi"},"color":{"field":"s","type":"nominal","scale":{"domain":["e1-dvcs","Hall-A","CLAS (previous)","VGG model","VGG + twist3","Laget model"],"range":["#111111","#3cb043","#e3262e","#35339b","#35339b","#333333"]},"legend":null}}},
 {"data":{"name":"pts"},"transform":[{"filter":"datum.p=='P3c'"}],"mark":{"type":"point","filled":true,"size":22,"opacity":1},"encoding":{"x":{"field":"t","type":"quantitative","axis":null},"y":{"field":"a","type":"quantitative","axis":null},"color":{"field":"s","type":"nominal","scale":{"domain":["e1-dvcs","Hall-A","CLAS (previous)","VGG model","VGG + twist3","Laget model"],"range":["#111111","#3cb043","#e3262e","#35339b","#35339b","#333333"]},"legend":null},"shape":{"field":"s","type":"nominal","scale":{"domain":["e1-dvcs","Hall-A","CLAS (previous)"],"range":["circle","triangle-down","diamond"]},"legend":null}}}
]},
{"layer": [
 {"data":{"values":[{}]},"mark":{"type":"rect","fill":null,"stroke":"#8c8c8c","strokeWidth":1.3},"encoding":{"x":{"datum":0.05,"type":"quantitative","scale":{"domain":[0.05,0.779],"range":[60,111],"nice":false,"zero":false},"axis":null},"x2":{"datum":0.779},"y":{"datum":-0.042,"type":"quantitative","scale":{"domain":[-0.042,0.392],"range":[328,273.7],"nice":false,"zero":false},"axis":null},"y2":{"datum":0.392}}},
 {"data":{"values":[{}]},"mark":{"type":"rule","strokeDash":[3,2],"color":"#555555","strokeWidth":1},"encoding":{"x":{"datum":0.05,"type":"quantitative","axis":null},"x2":{"datum":0.779},"y":{"datum":0,"type":"quantitative","axis":null}}},
 {"data":{"name":"crv"},"transform":[{"filter":"datum.p=='P2a'"}],"mark":{"type":"line"},"encoding":{"x":{"field":"t","type":"quantitative","axis":null},"y":{"field":"a","type":"quantitative","axis":null},"color":{"field":"s","type":"nominal","scale":{"domain":["e1-dvcs","Hall-A","CLAS (previous)","VGG model","VGG + twist3","Laget model"],"range":["#111111","#3cb043","#e3262e","#35339b","#35339b","#333333"]},"legend":null},"strokeDash":{"field":"s","type":"nominal","scale":{"domain":["VGG model","VGG + twist3","Laget model"],"range":[[1,0],[5,2,1.5,2],[2,1.5]]},"legend":null},"strokeWidth":{"field":"s","type":"ordinal","scale":{"domain":["VGG model","VGG + twist3","Laget model"],"range":[2.2,1.6,1.3]},"legend":null}}},
 {"data":{"name":"pts"},"transform":[{"filter":"datum.p=='P2a'"}],"mark":{"type":"rule","strokeWidth":1.2},"encoding":{"x":{"field":"t","type":"quantitative","axis":null},"y":{"field":"lo","type":"quantitative","axis":null},"y2":{"field":"hi"},"color":{"field":"s","type":"nominal","scale":{"domain":["e1-dvcs","Hall-A","CLAS (previous)","VGG model","VGG + twist3","Laget model"],"range":["#111111","#3cb043","#e3262e","#35339b","#35339b","#333333"]},"legend":null}}},
 {"data":{"name":"pts"},"transform":[{"filter":"datum.p=='P2a'"}],"mark":{"type":"point","filled":true,"size":22,"opacity":1},"encoding":{"x":{"field":"t","type":"quantitative","axis":null},"y":{"field":"a","type":"quantitative","axis":null},"color":{"field":"s","type":"nominal","scale":{"domain":["e1-dvcs","Hall-A","CLAS (previous)","VGG model","VGG + twist3","Laget model"],"range":["#111111","#3cb043","#e3262e","#35339b","#35339b","#333333"]},"legend":null},"shape":{"field":"s","type":"nominal","scale":{"domain":["e1-dvcs","Hall-A","CLAS (previous)"],"range":["circle","triangle-down","diamond"]},"legend":null}}}
]},
{"layer": [
 {"data":{"values":[{}]},"mark":{"type":"rect","fill":null,"stroke":"#8c8c8c","strokeWidth":1.3},"encoding":{"x":{"datum":0.05,"type":"quantitative","scale":{"domain":[0.05,0.779],"range":[60,111],"nice":false,"zero":false},"axis":null},"x2":{"datum":0.779},"y":{"datum":-0.062,"type":"quantitative","scale":{"domain":[-0.062,0.392],"range":[384.7,328],"nice":false,"zero":false},"axis":null},"y2":{"datum":0.392}}},
 {"data":{"values":[{}]},"mark":{"type":"rule","strokeDash":[3,2],"color":"#555555","strokeWidth":1},"encoding":{"x":{"datum":0.05,"type":"quantitative","axis":null},"x2":{"datum":0.779},"y":{"datum":0,"type":"quantitative","axis":null}}},
 {"data":{"name":"crv"},"transform":[{"filter":"datum.p=='P2b'"}],"mark":{"type":"line"},"encoding":{"x":{"field":"t","type":"quantitative","axis":null},"y":{"field":"a","type":"quantitative","axis":null},"color":{"field":"s","type":"nominal","scale":{"domain":["e1-dvcs","Hall-A","CLAS (previous)","VGG model","VGG + twist3","Laget model"],"range":["#111111","#3cb043","#e3262e","#35339b","#35339b","#333333"]},"legend":null},"strokeDash":{"field":"s","type":"nominal","scale":{"domain":["VGG model","VGG + twist3","Laget model"],"range":[[1,0],[5,2,1.5,2],[2,1.5]]},"legend":null},"strokeWidth":{"field":"s","type":"ordinal","scale":{"domain":["VGG model","VGG + twist3","Laget model"],"range":[2.2,1.6,1.3]},"legend":null}}},
 {"data":{"name":"pts"},"transform":[{"filter":"datum.p=='P2b'"}],"mark":{"type":"rule","strokeWidth":1.2},"encoding":{"x":{"field":"t","type":"quantitative","axis":null},"y":{"field":"lo","type":"quantitative","axis":null},"y2":{"field":"hi"},"color":{"field":"s","type":"nominal","scale":{"domain":["e1-dvcs","Hall-A","CLAS (previous)","VGG model","VGG + twist3","Laget model"],"range":["#111111","#3cb043","#e3262e","#35339b","#35339b","#333333"]},"legend":null}}},
 {"data":{"name":"pts"},"transform":[{"filter":"datum.p=='P2b'"}],"mark":{"type":"point","filled":true,"size":22,"opacity":1},"encoding":{"x":{"field":"t","type":"quantitative","axis":null},"y":{"field":"a","type":"quantitative","axis":null},"color":{"field":"s","type":"nominal","scale":{"domain":["e1-dvcs","Hall-A","CLAS (previous)","VGG model","VGG + twist3","Laget model"],"range":["#111111","#3cb043","#e3262e","#35339b","#35339b","#333333"]},"legend":null},"shape":{"field":"s","type":"nominal","scale":{"domain":["e1-dvcs","Hall-A","CLAS (previous)"],"range":["circle","triangle-down","diamond"]},"legend":null}}}
]},
{"layer": [
 {"data":{"values":[{}]},"mark":{"type":"rect","fill":null,"stroke":"#8c8c8c","strokeWidth":1.3},"encoding":{"x":{"datum":0.03,"type":"quantitative","scale":{"domain":[0.03,0.744],"range":[10,60],"nice":false,"zero":false},"axis":null},"x2":{"datum":0.744},"y":{"datum":-0.05,"type":"quantitative","scale":{"domain":[-0.05,0.39],"range":[390.3,335.3],"nice":false,"zero":false},"axis":null},"y2":{"datum":0.39}}},
 {"data":{"values":[{}]},"mark":{"type":"rule","strokeDash":[3,2],"color":"#555555","strokeWidth":1},"encoding":{"x":{"datum":0.03,"type":"quantitative","axis":null},"x2":{"datum":0.744},"y":{"datum":0,"type":"quantitative","axis":null}}},
 {"data":{"name":"crv"},"transform":[{"filter":"datum.p=='P1'"}],"mark":{"type":"line"},"encoding":{"x":{"field":"t","type":"quantitative","axis":null},"y":{"field":"a","type":"quantitative","axis":null},"color":{"field":"s","type":"nominal","scale":{"domain":["e1-dvcs","Hall-A","CLAS (previous)","VGG model","VGG + twist3","Laget model"],"range":["#111111","#3cb043","#e3262e","#35339b","#35339b","#333333"]},"legend":null},"strokeDash":{"field":"s","type":"nominal","scale":{"domain":["VGG model","VGG + twist3","Laget model"],"range":[[1,0],[5,2,1.5,2],[2,1.5]]},"legend":null},"strokeWidth":{"field":"s","type":"ordinal","scale":{"domain":["VGG model","VGG + twist3","Laget model"],"range":[2.2,1.6,1.3]},"legend":null}}},
 {"data":{"name":"pts"},"transform":[{"filter":"datum.p=='P1'"}],"mark":{"type":"rule","strokeWidth":1.2},"encoding":{"x":{"field":"t","type":"quantitative","axis":null},"y":{"field":"lo","type":"quantitative","axis":null},"y2":{"field":"hi"},"color":{"field":"s","type":"nominal","scale":{"domain":["e1-dvcs","Hall-A","CLAS (previous)","VGG model","VGG + twist3","Laget model"],"range":["#111111","#3cb043","#e3262e","#35339b","#35339b","#333333"]},"legend":null}}},
 {"data":{"name":"pts"},"transform":[{"filter":"datum.p=='P1'"}],"mark":{"type":"point","filled":true,"size":22,"opacity":1},"encoding":{"x":{"field":"t","type":"quantitative","axis":null},"y":{"field":"a","type":"quantitative","axis":null},"color":{"field":"s","type":"nominal","scale":{"domain":["e1-dvcs","Hall-A","CLAS (previous)","VGG model","VGG + twist3","Laget model"],"range":["#111111","#3cb043","#e3262e","#35339b","#35339b","#333333"]},"legend":null},"shape":{"field":"s","type":"nominal","scale":{"domain":["e1-dvcs","Hall-A","CLAS (previous)"],"range":["circle","triangle-down","diamond"]},"legend":null}}}
]},
{"data":{"values":[{"u":0.2,"v":2}]},"mark":{"type":"point","opacity":0},
 "encoding":{
  "x":{"field":"u","type":"quantitative","scale":{"domain":[0.0912,0.4196],"nice":false,"zero":false},"axis":{"orient":"bottom","values":[0.1,0.15,0.2,0.25,0.3,0.35,0.4],"format":".2~f","labelExpr":"indexof(['0.1','0.2','0.3','0.4'], datum.label) >= 0 ? datum.label : ''","tickSize":-8,"labelPadding":12,"labelFontSize":10,"labelFontWeight":"bold","labelFlush":false,"title":null,"domainColor":"#444444","tickColor":"#444444"}},
  "y":{"field":"v","type":"quantitative","scale":{"domain":[0.9206,3.83],"nice":false,"zero":false},"axis":{"orient":"left","values":[1,1.5,2,2.5,3,3.5],"format":"~g","labelExpr":"datum.value % 1 == 0 ? datum.label : ''","tickSize":-8,"labelPadding":10,"labelFontSize":10,"labelFontWeight":"bold","labelFlush":false,"title":null,"domainColor":"#444444","tickColor":"#444444"}}}},
{"data":{"values":[{"u":180,"v":0}]},"mark":{"type":"point","opacity":0},
 "encoding":{
  "x":{"field":"u","type":"quantitative","scale":{"domain":[0,360],"range":[51,150.3],"nice":false,"zero":false},"axis":{"orient":"bottom","offset":-288,"values":[0,90,180,270,360],"format":"d","tickSize":3,"domain":false,"labelFontSize":9,"labelFontWeight":"bold","labelPadding":1,"labelFlush":false,"title":"φ (deg)","titleAnchor":"end","titleFontSize":9,"titleFontWeight":"bold","titlePadding":2}},
  "y":{"field":"v","type":"quantitative","scale":{"domain":[-0.232,0.287],"range":[115,33],"nice":false,"zero":false},"axis":{"orient":"left","offset":-51,"values":[-0.2,-0.1,0,0.1,0.2],"format":".1~f","tickSize":3,"domain":false,"labelFontSize":9,"labelFontWeight":"bold","labelPadding":1,"title":"BSA","titleFontSize":9,"titleFontWeight":"bold","titlePadding":2}}}},
{"data":{"values":[{"u":1,"v":0.2}]},"mark":{"type":"point","opacity":0},
 "encoding":{
  "x":{"field":"u","type":"quantitative","scale":{"domain":[0.03,1.76],"range":[214,335],"nice":false,"zero":false},"axis":null},
  "y":{"field":"v","type":"quantitative","scale":{"domain":[-0.058,0.40],"range":[113,42],"nice":false,"zero":false},"axis":{"orient":"left","offset":-214,"values":[0,0.1,0.2,0.3],"format":".1~f","tickSize":3,"domain":false,"labelFontSize":9,"labelFontWeight":"bold","labelPadding":2,"title":null}}}},
{"data":{"values":[{"u":1,"v":0.2}]},"mark":{"type":"point","opacity":0},
 "encoding":{
  "x":{"field":"u","type":"quantitative","scale":{"domain":[0.03,1.76],"range":[214,335],"nice":false,"zero":false},"axis":{"orient":"bottom","offset":-85,"values":[0.5,1,1.5],"format":"~g","tickSize":3,"domain":false,"labelFontSize":10,"labelFontWeight":"bold","labelPadding":2,"labelFlush":false,"title":"-t (GeV²)","titleAnchor":"end","titleFontSize":10,"titleFontWeight":"bold","titlePadding":1}},
  "y":{"field":"v","type":"quantitative","scale":{"domain":[-0.058,0.387],"range":[318,249],"nice":false,"zero":false},"axis":null}}}
]
}
